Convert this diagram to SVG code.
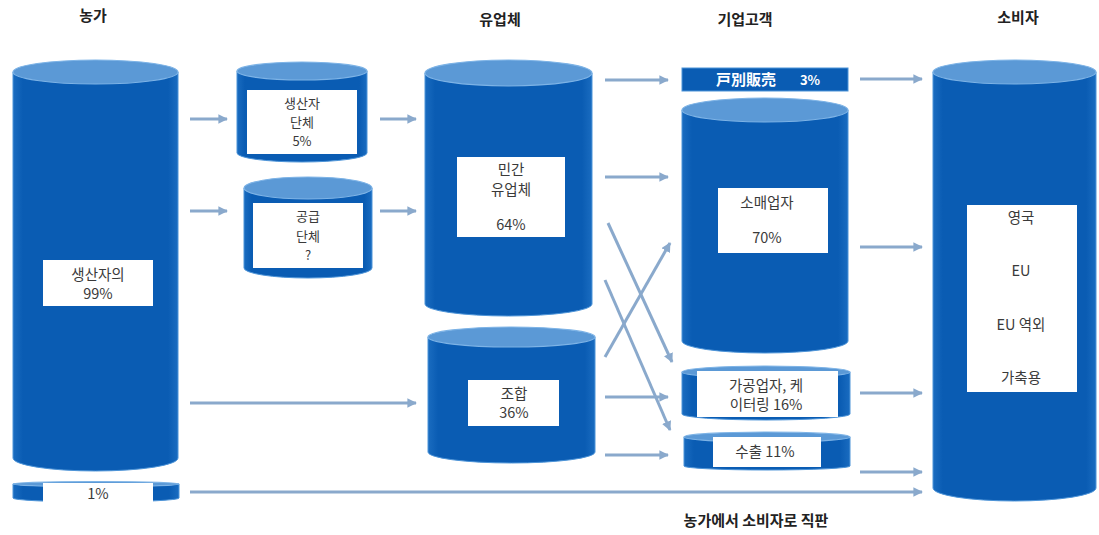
<svg xmlns="http://www.w3.org/2000/svg" width="1099" height="535" viewBox="0 0 1099 535">
<defs>
<marker id="ah" viewBox="0 0 10 10" refX="9" refY="5" markerWidth="3.2" markerHeight="3.2" orient="auto" markerUnits="strokeWidth">
<path d="M0,0 L10,5 L0,10 Z" fill="#8aa9cc"/>
</marker>
<linearGradient id="body" x1="0" y1="0" x2="1" y2="0">
<stop offset="0" stop-color="#1a6cc0"/>
<stop offset="0.06" stop-color="#0a5cb3"/>
<stop offset="0.94" stop-color="#0a5cb3"/>
<stop offset="1" stop-color="#1a6cc0"/>
</linearGradient>
</defs>
<style>
.body{fill:url(#body);stroke:#4d94d8;stroke-width:1}
.top{fill:#5b99d6;stroke:#7db3e6;stroke-width:1.2}
.box{fill:#ffffff}
.t{font-family:"Noto Sans CJK KR","Noto Sans",sans-serif;font-size:14.5px;fill:#3a3a3a;text-anchor:middle}
.s{font-size:13px}
.h{font-family:"Noto Sans CJK KR","Noto Sans",sans-serif;font-size:15px;font-weight:bold;fill:#222;text-anchor:middle}
.w{font-family:"Noto Sans CJK JP","Noto Sans CJK KR",sans-serif;font-size:15px;font-weight:bold;fill:#ffffff;text-anchor:middle}
.c line{stroke:#8aa9cc;stroke-width:3;marker-end:url(#ah)}
</style>
<rect width="1099" height="535" fill="#ffffff"/>

<g id="headers">
<text class="h" x="93" y="21">농가</text>
<text class="h" x="500" y="25">유업체</text>
<text class="h" x="745" y="25">기업고객</text>
<text class="h" x="1018" y="23">소비자</text>
<text class="h" x="756" y="526">농가에서 소비자로 직판</text>
</g>

<g id="farm">
<path class="body" d="M13,72 L13,458 A82.5,13 0 0 0 178,458 L178,72 Z"/>
<ellipse class="top" cx="95.5" cy="72" rx="82.5" ry="12"/>
<rect class="box" x="43" y="260" width="110" height="46"/>
<text class="t" x="98" y="280">생산자의</text>
<text class="t" x="98" y="299">99%</text>
</g>

<g id="farm1">
<path class="body" d="M13,484 L13,498 A83,4 0 0 0 179,498 L179,484 Z"/>
<ellipse class="top" cx="96" cy="484" rx="83" ry="2.5"/>
<rect class="box" x="43" y="483" width="110" height="20"/>
<text class="t" x="98" y="499">1%</text>
</g>

<g id="producer-group">
<path class="body" d="M237,71 L237,153 A65,9 0 0 0 367,153 L367,71 Z"/>
<ellipse class="top" cx="302" cy="71" rx="65" ry="9"/>
<rect class="box" x="247" y="90" width="110" height="64"/>
<text class="t s" x="302" y="108">생산자</text>
<text class="t s" x="302" y="127">단체</text>
<text class="t s" x="302" y="146">5%</text>
</g>

<g id="supply-group">
<path class="body" d="M244,188 L244,268 A64,10 0 0 0 372,268 L372,188 Z"/>
<ellipse class="top" cx="308" cy="188" rx="64" ry="11"/>
<rect class="box" x="253" y="203" width="110" height="65"/>
<text class="t s" x="308" y="221">공급</text>
<text class="t s" x="308" y="241">단체</text>
<text class="t s" x="308" y="260">?</text>
</g>

<g id="private-dairy">
<path class="body" d="M425,73 L425,304 A83.5,12 0 0 0 592,304 L592,73 Z"/>
<ellipse class="top" cx="508.5" cy="73" rx="83.5" ry="13"/>
<rect class="box" x="457" y="157" width="108" height="80"/>
<text class="t" x="511" y="175">민간</text>
<text class="t" x="511" y="195">유업체</text>
<text class="t" x="511" y="230">64%</text>
</g>

<g id="coop">
<path class="body" d="M428,337 L428,452 A83.5,11 0 0 0 595,452 L595,337 Z"/>
<ellipse class="top" cx="511.5" cy="337" rx="83.5" ry="10"/>
<rect class="box" x="468" y="380" width="91" height="46"/>
<text class="t" x="514" y="399">조합</text>
<text class="t" x="514" y="418">36%</text>
</g>

<g id="door-sales">
<rect x="682" y="68" width="166" height="23" fill="#0a5cb3" stroke="#4d94d8" stroke-width="1"/>
<text class="w" x="746" y="85">戸別販売</text>
<text class="w" x="810" y="85" style="font-size:13px">3%</text>
</g>

<g id="retail">
<path class="body" d="M682,110 L682,341 A83,12 0 0 0 848,341 L848,110 Z"/>
<ellipse class="top" cx="765" cy="110" rx="83" ry="12"/>
<rect class="box" x="718" y="188" width="110" height="65"/>
<text class="t" x="767" y="208">소매업자</text>
<text class="t" x="767" y="243">70%</text>
</g>

<g id="processor">
<path class="body" d="M682,372 L682,414 A84,6 0 0 0 850,414 L850,372 Z"/>
<ellipse class="top" cx="766" cy="372" rx="84" ry="6"/>
<rect class="box" x="697" y="371" width="141" height="46"/>
<text class="t" x="766" y="391">가공업자, 케</text>
<text class="t" x="766" y="410">이터링 16%</text>
</g>

<g id="export">
<path class="body" d="M684,437 L684,466 A83,4 0 0 0 850,466 L850,437 Z"/>
<ellipse class="top" cx="767" cy="437" rx="83" ry="5"/>
<rect class="box" x="713" y="437" width="108" height="30"/>
<text class="t" x="765" y="457">수출 11%</text>
</g>

<g id="consumer">
<path class="body" d="M933,72 L933,488 A81.5,13 0 0 0 1096,488 L1096,72 Z"/>
<ellipse class="top" cx="1014.5" cy="72" rx="81.5" ry="12"/>
<rect class="box" x="967" y="205" width="110" height="187"/>
<text class="t" x="1021" y="223">영국</text>
<text class="t" x="1021" y="276">EU</text>
<text class="t" x="1021" y="330">EU 역외</text>
<text class="t" x="1021" y="383">가축용</text>
</g>

<g id="connectors" class="c">
<line x1="190" y1="119" x2="227" y2="119"/>
<line x1="190" y1="211" x2="227" y2="211"/>
<line x1="380" y1="119" x2="416" y2="119"/>
<line x1="380" y1="211" x2="416" y2="211"/>
<line x1="190" y1="403" x2="416" y2="403"/>
<line x1="605" y1="80" x2="668" y2="80"/>
<line x1="605" y1="177" x2="668" y2="177"/>
<line x1="605" y1="397" x2="668" y2="397"/>
<line x1="605" y1="455" x2="668" y2="455"/>
<line x1="608" y1="223" x2="672" y2="362"/>
<line x1="605" y1="280" x2="670" y2="430"/>
<line x1="605" y1="357" x2="670" y2="243"/>
<line x1="860" y1="79" x2="922" y2="79"/>
<line x1="860" y1="247" x2="922" y2="247"/>
<line x1="860" y1="393" x2="922" y2="393"/>
<line x1="860" y1="472" x2="922" y2="472"/>
<line x1="190" y1="492" x2="922" y2="492"/>
</g>
</svg>
